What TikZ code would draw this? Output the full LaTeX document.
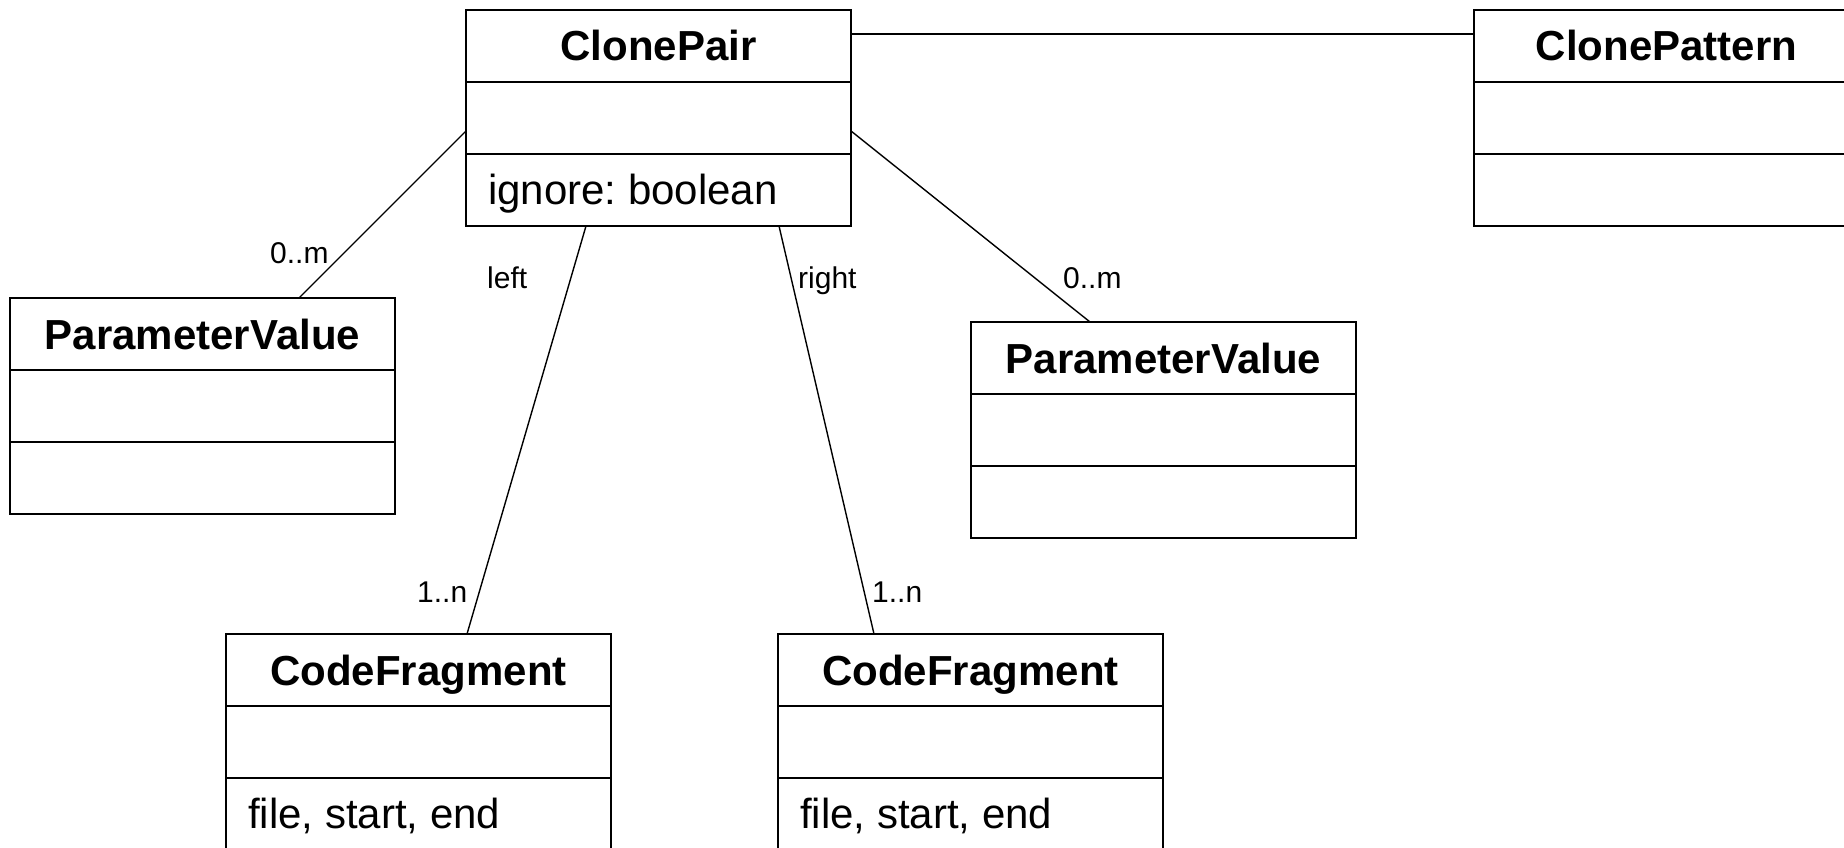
\documentclass[tikz,border=0pt]{standalone}
\usepackage{fontspec}
\setmainfont{Liberation Sans}
\usetikzlibrary{positioning}
\frenchspacing
\tikzset{
  classbox/.style={draw, line width=2pt, rectangle, minimum width=385pt, minimum height=216pt,
    inner sep=0pt, outer sep=0pt, anchor=north west, fill=white},
  divider/.style={line width=1.6pt},
  titletext/.style={inner sep=0pt, anchor=base, font=\fontsize{42pt}{50pt}\selectfont\bfseries},
  attrtext/.style={inner sep=0pt, anchor=base west, font=\fontsize{42pt}{50pt}\selectfont},
  roletext/.style={inner sep=0pt, anchor=base west, font=\fontsize{30pt}{36pt}\selectfont},
  assoc/.style={line width=1.4pt}
}
\newcommand{\umlbox}[5]{%
  \node[classbox] (#1) at (#2,#3) {};
  \draw[divider] ([yshift=-72pt]#1.north west) -- ([yshift=-72pt]#1.north east);
  \draw[divider] ([yshift=-144pt]#1.north west) -- ([yshift=-144pt]#1.north east);
  \node[titletext] (#1-t) at ([yshift=-51pt]#1.north) {#4};
  \node[attrtext] (#1-a) at ([xshift=22pt,yshift=-194pt]#1.north west) {#5};
}
\begin{document}
\begin{tikzpicture}[x=1pt,y=-1pt]
\useasboundingbox (0,0) rectangle (1844,848);
\clip (0,0) rectangle (1844,848);
\fill[white] (0,0) rectangle (1844,848);

\umlbox{cp}{466}{10}{ClonePair}{ignore: boolean}
\umlbox{pat}{1474}{10}{ClonePattern}{}
\umlbox{pvl}{10}{298}{ParameterValue}{}
\umlbox{pvr}{971}{322}{ParameterValue}{}
\umlbox{cfl}{226}{634}{CodeFragment}{file, start, end}
\umlbox{cfr}{778}{634}{CodeFragment}{file, start, end}

\draw[assoc] ([yshift=-24pt]cp.north east) -- ([yshift=-24pt]pat.north west);
\draw[assoc] ([yshift=-121pt]cp.north west) -- ([xshift=289pt]pvl.north west);
\draw[assoc] ([yshift=-121pt]cp.north east) -- ([xshift=119pt]pvr.north west);
\draw[assoc] ([xshift=120pt]cp.south west) -- ([xshift=241pt]cfl.north west);
\draw[assoc] ([xshift=313pt]cp.south west) -- ([xshift=96pt]cfr.north west);

\node[roletext] (m1) at (270,263) {0..m};
\node[roletext] (rl) at (487,288) {left};
\node[roletext] (rr) at (798,288) {right};
\node[roletext] (m2) at (1063,288) {0..m};
\node[roletext] (n1) at (417,602) {1..n};
\node[roletext] (n2) at (872,602) {1..n};
\end{tikzpicture}
\end{document}
